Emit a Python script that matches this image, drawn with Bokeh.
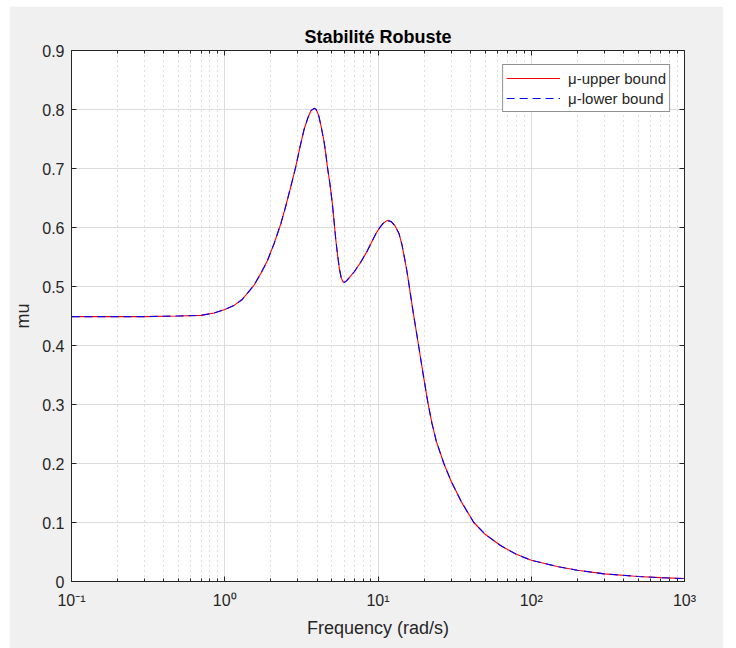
from bokeh.plotting import figure
from bokeh.models import FixedTicker, LogAxis, LinearAxis, Range1d
from bokeh.embed import file_html
from bokeh.resources import INLINE

# Frequency (rad/s) and mu values
freq = [0.1, 0.2, 0.3, 0.5, 0.7, 0.85, 1.0, 1.15, 1.3, 1.55, 1.72, 1.9, 2.1, 2.32, 2.5,
        2.69, 2.9, 3.1, 3.3, 3.5, 3.65, 3.83, 3.95, 4.1, 4.25, 4.45, 4.57, 4.68, 4.85,
        5.04, 5.2, 5.3, 5.45, 5.6, 5.75, 5.9, 6.05, 6.25, 6.6, 7.0, 7.71, 8.5, 9.66,
        10.2, 10.8, 11.5, 12.2, 12.9, 13.7, 14.3, 14.8, 15.4, 15.9, 16.5, 17.0, 17.7,
        18.4, 19.8, 21.1, 22.5, 24.0, 26.9, 30, 35, 42.2, 50, 63, 80, 100, 150, 200,
        300, 500, 700, 1000]
mu_upper = [0.449, 0.449, 0.449, 0.450, 0.451, 0.455, 0.461, 0.468, 0.478, 0.502, 0.522,
            0.544, 0.573, 0.606, 0.636, 0.668, 0.702, 0.737, 0.767, 0.787, 0.798, 0.802,
            0.800, 0.790, 0.772, 0.745, 0.724, 0.702, 0.675, 0.640, 0.603, 0.580, 0.553,
            0.530, 0.515, 0.508, 0.507, 0.510, 0.517, 0.525, 0.541, 0.560, 0.589, 0.599,
            0.607, 0.612, 0.610, 0.603, 0.590, 0.572, 0.552, 0.528, 0.505, 0.477, 0.455,
            0.427, 0.400, 0.348, 0.305, 0.268, 0.238, 0.200, 0.170, 0.135, 0.100, 0.080,
            0.061, 0.046, 0.036, 0.025, 0.019, 0.013, 0.0085, 0.0065, 0.005]
mu_lower = list(mu_upper)

x_ticks = [0.1, 1, 10, 100, 1000]
x_tick_labels = ["10\u207b\u00b9", "10\u2070", "10\u00b9", "10\u00b2", "10\u00b3"]
y_ticks = [0, 0.1, 0.2, 0.3, 0.4, 0.5, 0.6, 0.7, 0.8, 0.9]
y_tick_labels = ["0", "0.1", "0.2", "0.3", "0.4", "0.5", "0.6", "0.7", "0.8", "0.9"]

TXT = "#262626"
FONT = "Liberation Sans"
minor = [m * d for d in [0.1, 1, 10, 100] for m in range(2, 10)]

p = figure(width=714, height=642, x_axis_type="log", output_backend="svg",
           toolbar_location=None, x_range=Range1d(0.1, 1000), y_range=Range1d(0, 0.9),
           min_border_left=62, min_border_right=39, min_border_top=44, min_border_bottom=67,
           border_fill_color="#f0f0f0", background_fill_color="white",
           outline_line_color=TXT, outline_line_width=1)
p.margin = (6, 13, 0, 9)

p.title.text = "Stabilité Robuste"
p.title.align = "center"
p.title.text_font = FONT
p.title.text_font_size = "18px"
p.title.text_font_style = "bold"
p.title.text_color = "#000000"
p.title.offset = 0
p.title.standoff = 8

xt = FixedTicker(ticks=x_ticks, minor_ticks=minor)
yt = FixedTicker(ticks=y_ticks)

for ax in p.xaxis:
    ax.ticker = xt
    ax.major_label_overrides = {t: l for t, l in zip(x_ticks, x_tick_labels)}
for ax in p.yaxis:
    ax.ticker = yt
    ax.major_label_overrides = {t: l for t, l in zip(y_ticks, y_tick_labels)}

def style_axis(ax, labels=True):
    ax.axis_line_color = TXT
    ax.major_tick_line_color = TXT
    ax.minor_tick_line_color = TXT
    ax.major_tick_in = 5
    ax.major_tick_out = 0
    ax.minor_tick_in = 3
    ax.minor_tick_out = 0
    ax.major_label_text_font = FONT
    ax.major_label_text_font_size = "16px"
    ax.major_label_text_color = TXT if labels else None
    ax.axis_label_text_font = FONT
    ax.axis_label_text_font_size = "18px"
    ax.axis_label_text_font_style = "normal"
    ax.axis_label_text_color = TXT

style_axis(p.xaxis[0])
style_axis(p.yaxis[0])
p.xaxis[0].axis_label = "Frequency (rad/s)"
p.yaxis[0].axis_label = "mu"
p.xaxis[0].major_label_standoff = 10
p.yaxis[0].major_label_standoff = 7
p.yaxis[0].minor_tick_in = 0
p.xaxis[0].axis_label_standoff = 6
p.yaxis[0].axis_label_standoff = 6

top = LogAxis(ticker=xt)
style_axis(top, labels=False)
top.major_label_text_font_size = "0px"
right = LinearAxis(ticker=yt)
style_axis(right, labels=False)
right.major_label_text_font_size = "0px"
right.minor_tick_in = 0
p.add_layout(top, "above")
p.add_layout(right, "right")

p.xgrid.ticker = xt
p.ygrid.ticker = yt
p.xgrid.grid_line_color = "#dcdcdc"
p.ygrid.grid_line_color = "#dcdcdc"
p.xgrid.minor_grid_line_color = "#bdbdbd"
p.xgrid.minor_grid_line_dash = "1 4"

p.line(freq, mu_upper, line_color="#ff0000", line_width=1.1,
       legend_label="\u03bc-upper bound")
p.line(freq, mu_lower, line_color="#0000ff", line_width=1.1, line_dash="8 5",
       legend_label="\u03bc-lower bound")

legend = p.legend[0]
legend.location = "top_right"
legend.margin = 14
legend.padding = 3
legend.spacing = 0
legend.glyph_width = 54
legend.glyph_height = 20
legend.label_height = 20
legend.label_text_font = FONT
legend.label_text_font_size = "15px"
legend.label_text_color = TXT
legend.label_standoff = 8
legend.border_line_color = TXT
legend.border_line_width = 1
legend.background_fill_color = "white"

open("out.html", "w").write(file_html(p, INLINE))
